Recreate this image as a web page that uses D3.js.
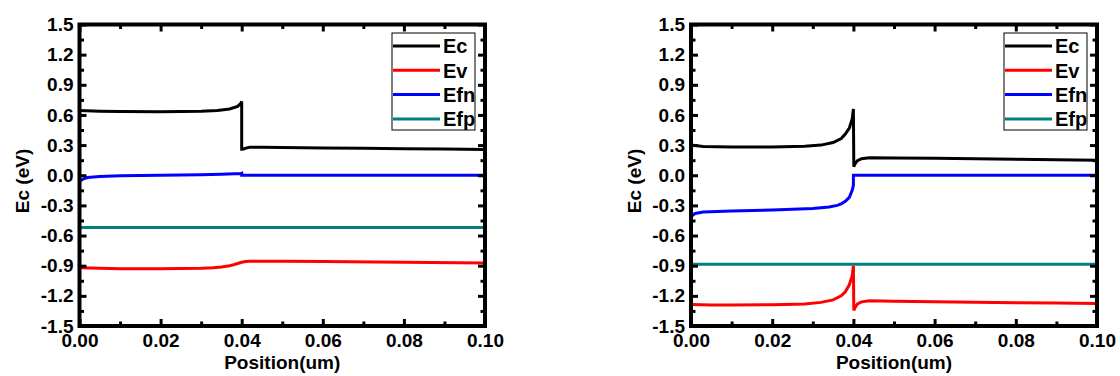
<!DOCTYPE html>
<html><head><meta charset="utf-8">
<script src="https://cdn.jsdelivr.net/npm/d3@7"></script>
<style>
body{margin:0;background:#fff;}
svg{display:block;font-family:"Liberation Sans",Arial,sans-serif;font-weight:bold;}
</style></head>
<body><svg id="c" width="1120" height="376"></svg>
<script>
// ---------- data ----------
const seriesNames = ["Ec","Ev","Efn","Efp"];
const seriesColors = ["#000000","#ff0000","#0000ff","#008080"];
const xTicks = [0,0.02,0.04,0.06,0.08,0.10];
const xTickLabels = ["0.00","0.02","0.04","0.06","0.08","0.10"];
const yTicks = [-1.5,-1.2,-0.9,-0.6,-0.3,0,0.3,0.6,0.9,1.2,1.5];
const yTickLabels = ["-1.5","-1.2","-0.9","-0.6","-0.3","0.0","0.3","0.6","0.9","1.2","1.5"];
const xTitle = "Position(um)";
const yTitle = "Ec (eV)";

// left panel
const leftEcX  = [0,0.005,0.01,0.02,0.03,0.034,0.037,0.039,0.0398,0.04,0.04,0.0405,0.041,0.042,0.045,0.05,0.06,0.07,0.08,0.09,0.1];
const leftEcY  = [0.645,0.638,0.635,0.633,0.636,0.645,0.66,0.685,0.715,0.735,0.26,0.262,0.27,0.278,0.279,0.277,0.272,0.268,0.264,0.26,0.257];
const leftEvX  = [0,0.01,0.02,0.03,0.033,0.035,0.037,0.038,0.039,0.04,0.041,0.042,0.05,0.06,0.08,0.1];
const leftEvY  = [-0.92,-0.93,-0.93,-0.926,-0.92,-0.912,-0.9,-0.89,-0.878,-0.866,-0.858,-0.855,-0.855,-0.858,-0.865,-0.872];
const leftEfnX = [0,0.001,0.002,0.005,0.01,0.02,0.03,0.035,0.0398,0.04,0.04,0.05,0.1];
const leftEfnY = [-0.06,-0.035,-0.022,-0.012,-0.006,0.0,0.006,0.01,0.018,0.02,0.0,0.0,0.0];
const leftEfpX = [0,0.1];
const leftEfpY = [-0.52,-0.52];

// right panel
const rightEcX  = [0,0.003,0.01,0.02,0.028,0.032,0.035,0.037,0.038,0.039,0.0397,0.04,0.0401,0.0405,0.041,0.042,0.044,0.05,0.06,0.07,0.08,0.09,0.1];
const rightEcY  = [0.30,0.285,0.28,0.28,0.288,0.3,0.325,0.365,0.41,0.47,0.56,0.66,0.085,0.12,0.145,0.165,0.175,0.172,0.168,0.163,0.158,0.154,0.15];
const rightEvX  = [0,0.005,0.01,0.02,0.028,0.032,0.035,0.037,0.038,0.039,0.0397,0.04,0.0401,0.0405,0.041,0.042,0.044,0.05,0.06,0.07,0.08,0.09,0.1];
const rightEvY  = [-1.285,-1.29,-1.29,-1.288,-1.28,-1.265,-1.24,-1.2,-1.16,-1.09,-1.0,-0.9,-1.345,-1.31,-1.28,-1.26,-1.25,-1.253,-1.258,-1.263,-1.268,-1.272,-1.276];
const rightEfnX = [0,0.001,0.003,0.01,0.02,0.03,0.034,0.036,0.037,0.038,0.039,0.0397,0.04,0.04,0.05,0.1];
const rightEfnY = [-0.41,-0.38,-0.365,-0.355,-0.345,-0.33,-0.315,-0.3,-0.285,-0.26,-0.22,-0.15,-0.1,0,0,0];
const rightEfpX = [0,0.1];
const rightEfpY = [-0.885,-0.885];

const panels = [
  {left:79.5, right:485, xs:[leftEcX,leftEvX,leftEfnX,leftEfpX], ys:[leftEcY,leftEvY,leftEfnY,leftEfpY]},
  {left:691, right:1097, xs:[rightEcX,rightEvX,rightEfnX,rightEfpX], ys:[rightEcY,rightEvY,rightEfnY,rightEfpY]}
];

// ---------- drawing ----------
const svg = d3.select("#c");
const plotTop = 24.5, plotBottom = 326;

panels.forEach((p,pi)=>{
  const x = d3.scaleLinear().domain([0,0.1]).range([p.left,p.right]);
  const y = d3.scaleLinear().domain([-1.5,1.5]).range([plotBottom,plotTop]);
  const g = svg.append("g");

  const clipId = "clip"+pi;
  svg.append("clipPath").attr("id",clipId).append("rect")
    .attr("x",p.left).attr("y",plotTop).attr("width",p.right-p.left).attr("height",plotBottom-plotTop);

  // lines
  const line = d3.line().x(d=>x(d[0])).y(d=>y(d[1]));
  const lg = g.append("g").attr("clip-path","url(#"+clipId+")");
  seriesNames.forEach((n,i)=>{
    const pts = p.xs[i].map((xv,k)=>[xv,p.ys[i][k]]);
    lg.append("path").attr("d",line(pts)).attr("fill","none")
      .attr("stroke",seriesColors[i]).attr("stroke-width",3)
      .attr("stroke-linejoin","miter").attr("stroke-miterlimit",3);
  });

  const fmtX = d => xTickLabels[xTicks.findIndex(t=>Math.abs(t-d)<1e-9)];
  const fmtY = d => yTickLabels[yTicks.findIndex(t=>Math.abs(t-d)<1e-9)];
  const xMinor = [0.01,0.03,0.05,0.07,0.09];
  const yMinor = [-1.35,-1.05,-0.75,-0.45,-0.15,0.15,0.45,0.75,1.05,1.35];

  function styleAxis(a){
    a.select(".domain").remove();
    a.selectAll("line").attr("stroke","#000").attr("stroke-width",3);
    a.selectAll("text").attr("font-size",19).attr("font-weight","bold")
      .attr("font-family","'Liberation Sans',Arial,sans-serif").attr("fill","#000");
  }
  // bottom
  styleAxis(g.append("g").attr("transform",`translate(0,${plotBottom})`)
    .call(d3.axisBottom(x).tickValues(xTicks).tickFormat(fmtX).tickSizeInner(-7).tickSizeOuter(0).tickPadding(8)));
  styleAxis(g.append("g").attr("transform",`translate(0,${plotBottom})`)
    .call(d3.axisBottom(x).tickValues(xMinor).tickFormat("").tickSizeInner(-4.5).tickSizeOuter(0)));
  // top
  styleAxis(g.append("g").attr("transform",`translate(0,${plotTop})`)
    .call(d3.axisTop(x).tickValues(xTicks).tickFormat("").tickSizeInner(-7).tickSizeOuter(0)));
  styleAxis(g.append("g").attr("transform",`translate(0,${plotTop})`)
    .call(d3.axisTop(x).tickValues(xMinor).tickFormat("").tickSizeInner(-4.5).tickSizeOuter(0)));
  // left
  styleAxis(g.append("g").attr("transform",`translate(${p.left},0)`)
    .call(d3.axisLeft(y).tickValues(yTicks).tickFormat(fmtY).tickSizeInner(-7).tickSizeOuter(0).tickPadding(6)));
  styleAxis(g.append("g").attr("transform",`translate(${p.left},0)`)
    .call(d3.axisLeft(y).tickValues(yMinor).tickFormat("").tickSizeInner(-4.5).tickSizeOuter(0)));
  // right
  styleAxis(g.append("g").attr("transform",`translate(${p.right},0)`)
    .call(d3.axisRight(y).tickValues(yTicks).tickFormat("").tickSizeInner(-7).tickSizeOuter(0)));
  styleAxis(g.append("g").attr("transform",`translate(${p.right},0)`)
    .call(d3.axisRight(y).tickValues(yMinor).tickFormat("").tickSizeInner(-4.5).tickSizeOuter(0)));

  // frame
  g.append("rect").attr("x",p.left).attr("y",plotTop).attr("width",p.right-p.left).attr("height",plotBottom-plotTop)
    .attr("fill","none").attr("stroke","#000").attr("stroke-width",4);

  // titles
  g.append("text").attr("x",(p.left+p.right)/2).attr("y",369).attr("text-anchor","middle")
    .attr("font-size",19).attr("font-weight","bold").text(xTitle);
  g.append("text").attr("transform",`translate(${p.left-57},181) rotate(-90)`).attr("text-anchor","middle")
    .attr("dy","0.35em").attr("font-size",19).attr("font-weight","bold").text(yTitle);

  // legend
  const bx = p.right-93, by = 33, bw = 83, bh = 97;
  const leg = g.append("g");
  leg.append("rect").attr("x",bx).attr("y",by).attr("width",bw).attr("height",bh)
    .attr("fill","#fff").attr("stroke","#000").attr("stroke-width",1);
  seriesNames.forEach((n,i)=>{
    const ry = by+13+i*24.3;
    leg.append("line").attr("x1",bx+1).attr("x2",bx+48).attr("y1",ry).attr("y2",ry)
      .attr("stroke",seriesColors[i]).attr("stroke-width",3);
    leg.append("text").attr("x",bx+51).attr("y",ry).attr("dy","0.36em")
      .attr("font-size",20).attr("font-weight","bold").text(n);
  });
});
</script></body></html>
